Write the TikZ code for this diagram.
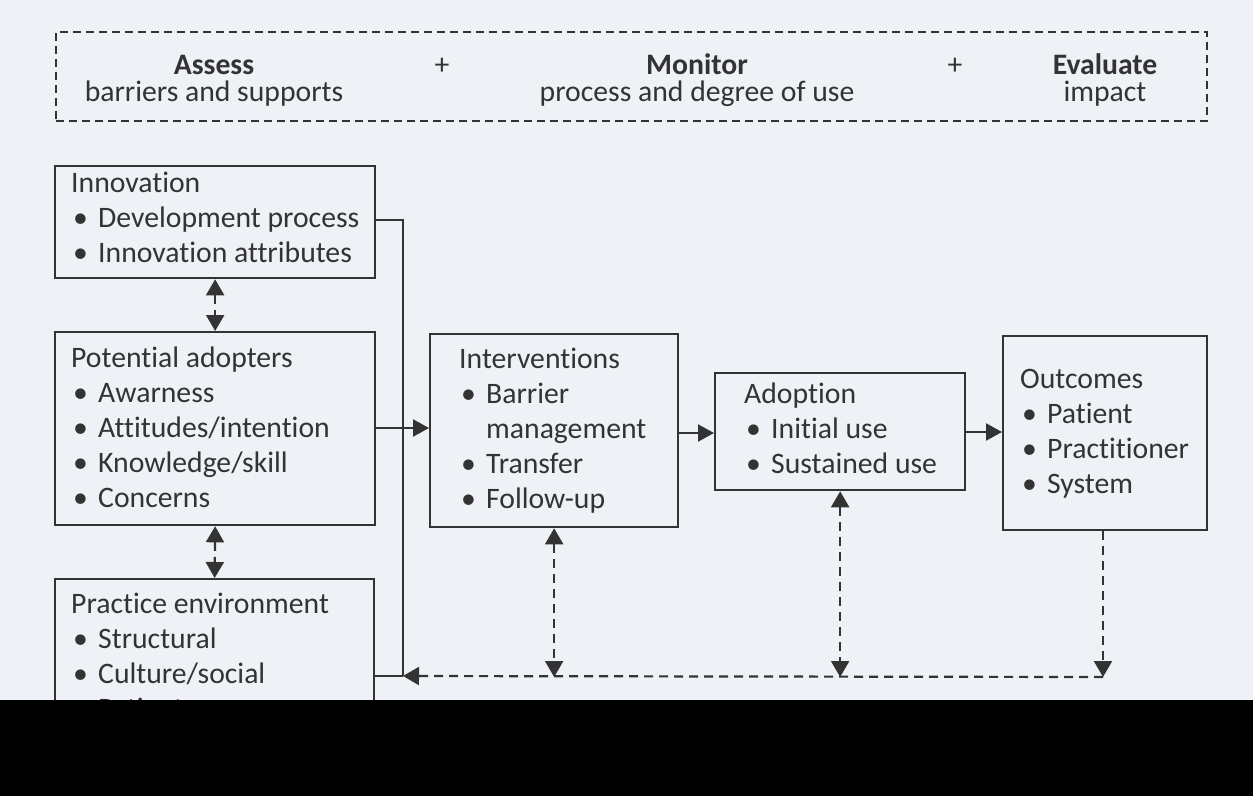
\documentclass[tikz,border=0pt]{standalone}
\usepackage{fontspec}
\setmainfont{Carlito}[Ligatures=NoCommon]
\usetikzlibrary{arrows.meta}
\definecolor{bg}{HTML}{EEF1F5}
\definecolor{ink}{HTML}{333333}
\newcommand\bul{\makebox[27pt][l]{\hspace{2pt}•}}
\newcommand\lines[1]{\begin{tabular}[t]{@{}l@{}}#1\end{tabular}}
\begin{document}
\begin{tikzpicture}[x=1pt,y=-1pt,
  box/.style={draw=ink, line width=2.3pt, inner sep=0pt, anchor=north west},
  dbox/.style={box, line width=1.6pt, dash pattern=on 8pt off 5pt},
  txt/.style={inner sep=0pt, anchor=base west, text=ink, font=\fontsize{29.7}{35}\selectfont},
  hd/.style={inner sep=0pt, anchor=base, text=ink, font=\fontsize{29.7}{35}\selectfont},
  ln/.style={draw=ink, line width=2.2pt},
  arr/.style={ln, -{Triangle[length=16pt,width=17pt]}},
  dln/.style={ln, dash pattern=on 9pt off 6pt},
  darr/.style={dln, -{Triangle[length=16pt,width=18pt]}},
  ddarr/.style={dln, {Triangle[length=16pt,width=18pt]}-{Triangle[length=16pt,width=18pt]}}]
\useasboundingbox (0,0) rectangle (1253,796);
\fill[bg] (0,0) rectangle (1253,796);

% top dashed box
\node[dbox, minimum width=1151pt, minimum height=89pt] (top) at (55,31) {};
\node[hd] (assess) at (214,74) {\textbf{Assess}};
\node[hd] (assess2) at (214,101) {barriers and supports};
\node[hd] (plus1) at (442,74) {+};
\node[hd] (monitor) at (697,74) {\textbf{Monitor}};
\node[hd] (monitor2) at (697,101) {process and degree of use};
\node[hd] (plus2) at (955,74) {+};
\node[hd] (evaluate) at (1105,74) {\textbf{Evaluate}};
\node[hd] (evaluate2) at (1105,101) {impact};

% boxes
\node[box, minimum width=320pt, minimum height=112pt] (inno) at (54,165) {};
\node[box, minimum width=320pt, minimum height=193pt] (adop) at (54,331) {};
\node[box, minimum width=319pt, minimum height=160pt] (prac) at (54,578) {};
\node[box, minimum width=248pt, minimum height=193pt] (interv) at (429,333) {};
\node[box, minimum width=250pt, minimum height=117pt] (adopt) at (714,372) {};
\node[box, minimum width=204pt, minimum height=194pt] (outc) at (1002,335) {};

% box texts
\node[txt] (innot) at (71,192) {\lines{Innovation\\ \bul Development process\\ \bul Innovation attributes}};
\node[txt] (adopt_t) at (71,367) {\lines{Potential adopters\\ \bul Awarness\\ \bul Attitudes/intention\\ \bul Knowledge/skill\\ \bul Concerns}};
\node[txt] (pract) at (71,613) {\lines{Practice environment\\ \bul Structural\\ \bul Culture/social\\ \bul Patients}};
\node[txt] (intervt) at (459,368) {\lines{Interventions\\ \bul Barrier\\ \hspace*{27pt}management\\ \bul Transfer\\ \bul Follow-up}};
\node[txt] (adoptiont) at (744,403) {\lines{Adoption\\ \bul Initial use\\ \bul Sustained use}};
\node[txt] (outct) at (1020,388) {\lines{Outcomes\\ \bul Patient\\ \bul Practitioner\\ \bul System}};

% junction coordinates
\coordinate (vtop) at (403,220);
\coordinate (vbot) at (403,676);
\coordinate (fb) at (1103,677);

% solid connectors
\draw[ln] (inno.east |- vtop) -- (vtop) -- (vbot);
\draw[ln] (prac.east |- vbot) -- (vbot);
\draw[arr] (adop.east |- 0,428) -- (interv.west |- 0,428);
\draw[arr] (interv.east |- 0,433) -- (adopt.west |- 0,433);
\draw[arr] (adopt.east |- 0,432) -- (outc.west |- 0,432);

% dashed connectors
\draw[ddarr] (inno.south) -- (adop.north);
\draw[ddarr] (adop.south) -- (prac.north);
\draw[darr] (outc.south -| fb) -- (fb);
\draw[darr] (fb) -- (vbot);
\draw[ddarr] (interv.south) -- (interv.south |- fb);
\draw[ddarr] (adopt.south) -- (adopt.south |- fb);

% black band at bottom
\fill[black] (0,700) rectangle (1253,796);
\end{tikzpicture}
\end{document}
